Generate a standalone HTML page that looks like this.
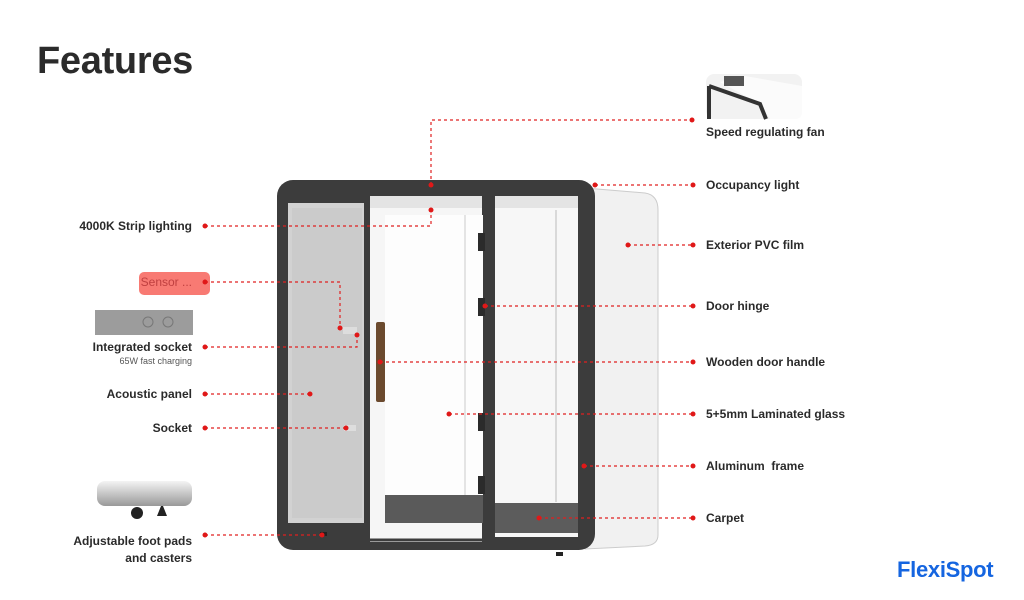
<!DOCTYPE html>
<html><head><meta charset="utf-8"><style>
body{margin:0;width:1024px;height:600px;background:#fff;position:relative;overflow:hidden;font-family:"Liberation Sans",sans-serif}
.t{position:absolute;font-size:12px;font-weight:bold;color:#2a2a2a;white-space:nowrap}
.l{text-align:right;right:832px}
svg{position:absolute;left:0;top:0}
</style></head><body>
<div style="position:absolute;left:37px;top:40px;font-size:38px;font-weight:bold;color:#2b2b2b;letter-spacing:-0.3px">Features</div>
<svg width="1024" height="600">
<defs>
<linearGradient id="g1" x1="0" y1="0" x2="0" y2="1"><stop offset="0" stop-color="#f4f4f4"/><stop offset="1" stop-color="#999"/></linearGradient>
</defs>
<path d="M585 188 L645 193 Q658 195 658 210 L658 535 Q658 545 645 546 L585 549 Z" fill="#f1f1f1" stroke="#ccc"/>
<rect x="277" y="180" width="318" height="370" rx="16" fill="#3c3c3c"/>
<rect x="288" y="203" width="76" height="320" fill="#d2d2d2"/>
<rect x="292" y="208" width="70" height="310" fill="#cbcbcb"/>
<rect x="370" y="196" width="112" height="346" fill="#f6f6f6"/>
<rect x="370" y="196" width="112" height="12" fill="#e4e4e4"/>
<rect x="385" y="215" width="98" height="280" fill="#fdfdfd"/>
<rect x="385" y="495" width="98" height="28" fill="#5a5a5a"/>
<rect x="367" y="192" width="120" height="348" fill="none" stroke="#3c3c3c" stroke-width="3"/>
<rect x="495" y="196" width="83" height="341" fill="#f7f7f7"/>
<rect x="495" y="196" width="83" height="12" fill="#e4e4e4"/>
<rect x="495" y="503" width="83" height="30" fill="#5c5c5c"/>
<line x1="556" y1="210" x2="556" y2="502" stroke="#bbb"/>
<line x1="465" y1="215" x2="465" y2="495" stroke="#ccc"/>
<rect x="483" y="192" width="10" height="350" fill="#3c3c3c"/>
<rect x="364" y="192" width="6" height="350" fill="#3c3c3c"/>
<rect x="376" y="322" width="9" height="80" rx="2" fill="#6b4a2e"/>
<rect x="478" y="233" width="7" height="18" fill="#2b2b2b"/>
<rect x="478" y="298" width="7" height="18" fill="#2b2b2b"/>
<rect x="478" y="413" width="7" height="18" fill="#2b2b2b"/>
<rect x="478" y="476" width="7" height="18" fill="#2b2b2b"/>
<rect x="343" y="327" width="14" height="7" fill="#ddd"/>
<rect x="344" y="425" width="12" height="6" fill="#ddd"/>
<rect x="320" y="532" width="7" height="4" fill="#222"/>
<rect x="556" y="552" width="7" height="4" fill="#222"/>
<rect x="706" y="74" width="96" height="45" rx="8" fill="#f2f2f2"/>
<path d="M720 82 L745 76 L802 86 L802 112 Q802 119 795 119 L770 119 L760 104 Z" fill="#fbfbfb"/>
<rect x="724" y="76" width="20" height="10" fill="#555"/>
<path d="M709 86 L709 119 M709 86 L760 104 L766 119" stroke="#333" stroke-width="4" fill="none"/>
<rect x="97" y="481" width="95" height="25" rx="8" fill="url(#g1)"/>
<circle cx="137" cy="513" r="6" fill="#222"/>
<path d="M157 516 L161 506 L163 506 L167 516 Z" fill="#222"/>
<rect x="95" y="310" width="98" height="25" fill="#9c9c9c"/>
<circle cx="148" cy="322" r="5" fill="none" stroke="#777"/><circle cx="168" cy="322" r="5" fill="none" stroke="#777"/>
<rect x="139" y="272" width="71" height="23" rx="5" fill="#f87a73"/>
<g stroke="#e02020" stroke-width="1.2" stroke-dasharray="3 3" fill="none">
<path d="M431 185 V120 H692"/><path d="M595 185 H693"/><path d="M205 226 H431 V210"/>
<path d="M628 245 H693"/><path d="M205 282 H340 V328"/><path d="M205 347 H357 V335"/>
<path d="M485 306 H693"/><path d="M380 362 H693"/><path d="M205 394 H310"/>
<path d="M205 428 H346"/><path d="M449 414 H693"/><path d="M584 466 H693"/>
<path d="M539 518 H693"/><path d="M205 535 H322"/>
</g>
<g fill="#e01818">
<circle cx="431" cy="185" r="2.5"/><circle cx="692" cy="120" r="2.5"/><circle cx="595" cy="185" r="2.5"/><circle cx="693" cy="185" r="2.5"/>
<circle cx="205" cy="226" r="2.5"/><circle cx="431" cy="210" r="2.5"/><circle cx="628" cy="245" r="2.5"/><circle cx="693" cy="245" r="2.5"/>
<circle cx="205" cy="282" r="2.5"/><circle cx="340" cy="328" r="2.5"/><circle cx="205" cy="347" r="2.5"/><circle cx="357" cy="335" r="2.5"/>
<circle cx="485" cy="306" r="2.5"/><circle cx="693" cy="306" r="2.5"/><circle cx="380" cy="362" r="2.5"/><circle cx="693" cy="362" r="2.5"/>
<circle cx="205" cy="394" r="2.5"/><circle cx="310" cy="394" r="2.5"/><circle cx="205" cy="428" r="2.5"/><circle cx="346" cy="428" r="2.5"/>
<circle cx="449" cy="414" r="2.5"/><circle cx="693" cy="414" r="2.5"/><circle cx="584" cy="466" r="2.5"/><circle cx="693" cy="466" r="2.5"/>
<circle cx="539" cy="518" r="2.5"/><circle cx="693" cy="518" r="2.5"/><circle cx="205" cy="535" r="2.5"/><circle cx="322" cy="535" r="2.5"/>
</g>
</svg>
<div class="t" style="left:706px;top:125px">Speed regulating fan</div>
<div class="t" style="left:706px;top:178px">Occupancy light</div>
<div class="t" style="left:706px;top:238px">Exterior PVC film</div>
<div class="t" style="left:706px;top:299px">Door hinge</div>
<div class="t" style="left:706px;top:355px">Wooden door handle</div>
<div class="t" style="left:706px;top:407px">5+5mm Laminated glass</div>
<div class="t" style="left:706px;top:459px">Aluminum&nbsp; frame</div>
<div class="t" style="left:706px;top:511px">Carpet</div>
<div class="t l" style="top:219px">4000K Strip lighting</div>
<div class="t l" style="top:275px;color:#c04040;font-weight:normal">Sensor ...</div>
<div class="t l" style="top:340px">Integrated socket</div>
<div class="t l" style="top:356px;font-size:9px;font-weight:normal;color:#555">65W fast charging</div>
<div class="t l" style="top:387px">Acoustic panel</div>
<div class="t l" style="top:421px">Socket</div>
<div class="t l" style="top:533px;line-height:17px;text-align:right">Adjustable foot pads<br>and casters</div>
<div style="position:absolute;left:897px;top:557px;font-size:22px;font-weight:bold;color:#1565e0;letter-spacing:-0.3px">FlexiSpot</div>
</body></html>
